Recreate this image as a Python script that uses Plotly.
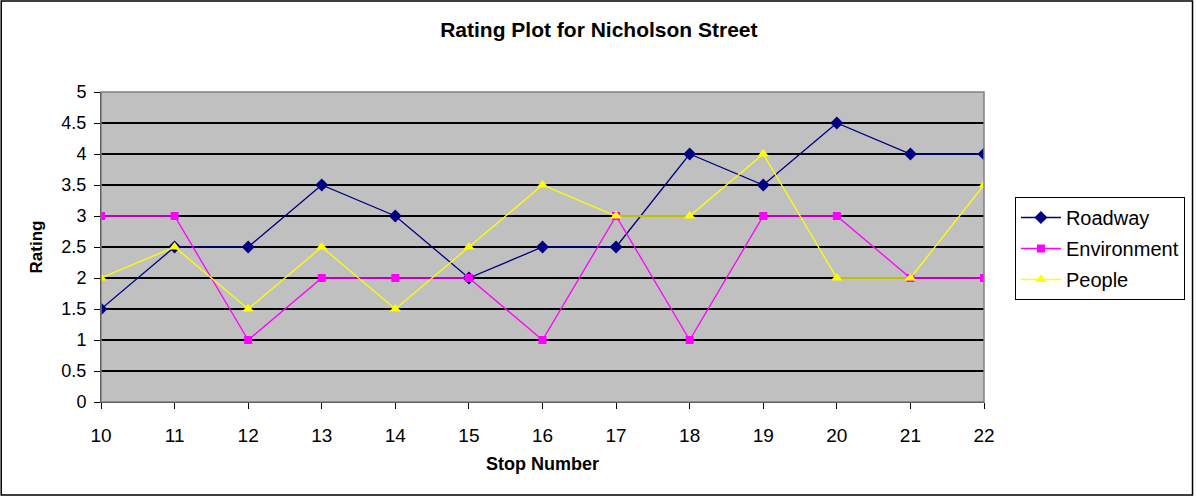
import plotly.graph_objects as go

stops = [10, 11, 12, 13, 14, 15, 16, 17, 18, 19, 20, 21, 22]
roadway = [1.5, 2.5, 2.5, 3.5, 3, 2, 2.5, 2.5, 4, 3.5, 4.5, 4, 4]
environment = [3, 3, 1, 2, 2, 2, 1, 3, 1, 3, 3, 2, 2]
people = [2, 2.5, 1.5, 2.5, 1.5, 2.5, 3.5, 3, 3, 4, 2, 2, 3.5]
y_ticks = [0, 0.5, 1, 1.5, 2, 2.5, 3, 3.5, 4, 4.5, 5]

W, H = 1197, 497
L, R, T, B = 101, 211, 92, 95
pw, ph = W - L - R, H - T - B

def px(x):
    return (x - L) / pw

def py(y):
    return (H - B - y) / ph

font = "Liberation Sans, Arial, sans-serif"

fig = go.Figure()
fig.add_trace(go.Scatter(x=stops, y=roadway, name="Roadway", mode="lines+markers",
                         legendgroup="a",
                         line=dict(color="#000080", width=1.3),
                         marker=dict(symbol="diamond", size=10, color="#000080")))
fig.add_trace(go.Scatter(x=stops, y=environment, name="Environment", mode="lines+markers",
                         legendgroup="b",
                         line=dict(color="#FF00FF", width=1.3),
                         marker=dict(symbol="square", size=8, color="#FF00FF")))
fig.add_trace(go.Scatter(x=stops, y=people, name="People", mode="lines+markers",
                         legendgroup="c",
                         line=dict(color="#FFFF00", width=1.3),
                         marker=dict(symbol="triangle-up", size=10, color="#FFFF00")))

fig.update_layout(
    width=W, height=H,
    margin=dict(l=L, r=R, t=T, b=B),
    paper_bgcolor="white",
    plot_bgcolor="#C0C0C0",
    title=dict(text="<b>Rating Plot for Nicholson Street</b>", x=px(600), xref="paper",
               xanchor="center", y=1 - 30 / H, yanchor="middle",
               font=dict(family=font, size=21, color="black")),
    font=dict(family=font, color="black"),
    showlegend=True,
    legend=dict(x=px(1017), y=py(197), xanchor="left", yanchor="top",
                bordercolor="black", borderwidth=1, bgcolor="white",
                font=dict(family=font, size=20, color="black"),
                itemwidth=40, tracegroupgap=2, traceorder="grouped"),
    xaxis=dict(range=[10, 22], tickvals=stops, ticks="outside", ticklen=6,
               tickcolor="black", showgrid=False, zeroline=False,
               showline=True, linecolor="black", linewidth=1,
               ticklabelstandoff=10,
               tickfont=dict(family=font, size=19, color="black"),
               title=dict(text="<b>Stop Number</b>", standoff=12,
                          font=dict(family=font, size=18, color="black"))),
    yaxis=dict(range=[0, 5], tickvals=y_ticks, ticktext=[f"{v:g}" for v in y_ticks],
               ticks="outside", ticklen=6, tickcolor="black",
               showgrid=True, gridcolor="black", gridwidth=1.5, zeroline=False,
               showline=True, linecolor="black", linewidth=1,
               ticklabelstandoff=4,
               tickfont=dict(family=font, size=18, color="black"),
               title=dict(text="<b>Rating</b>", standoff=14,
                          font=dict(family=font, size=17, color="black"))),
)

# plot-area gray border (top/right)
fig.add_shape(type="rect", xref="paper", yref="paper", x0=0, y0=0, x1=1, y1=1,
              line=dict(color="#808080", width=1.5), layer="above")
# outer chart border
fig.add_shape(type="rect", xref="paper", yref="paper",
              x0=px(1), x1=px(1195), y0=py(495), y1=py(1),
              line=dict(color="black", width=1.5))

fig.write_html("out.html", config={"displayModeBar": False},
               post_script="document.body.style.margin='0';")
